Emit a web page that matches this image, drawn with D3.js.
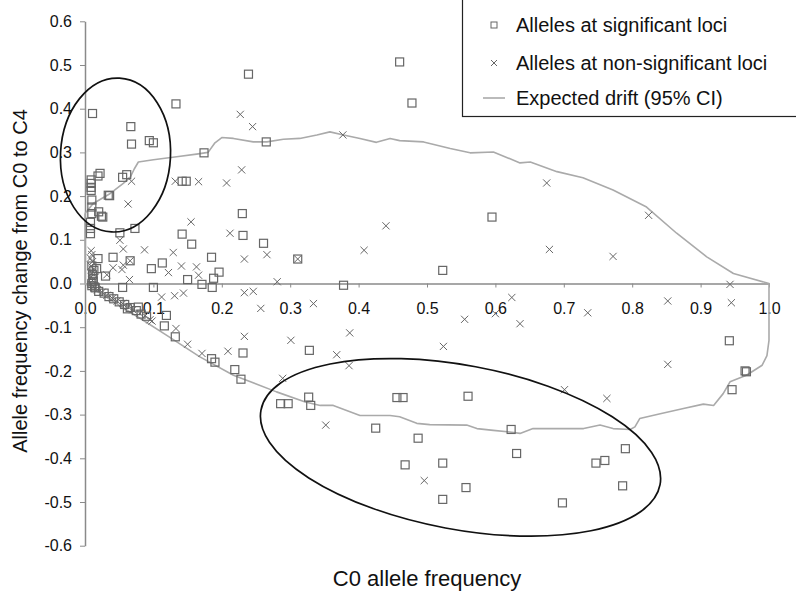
<!DOCTYPE html>
<html>
<head>
<meta charset="utf-8">
<script src="https://cdn.jsdelivr.net/npm/d3@7"></script>
<style>
  body { margin: 0; background: #fff; }
  text { font-family: "Liberation Sans", Arial, sans-serif; fill: #111; }
</style>
</head>
<body>
<div id="chart"></div>
<script>
// tick values
const xTicks = [0, 0.1, 0.2, 0.3, 0.4, 0.5, 0.6, 0.7, 0.8, 0.9, 1.0];
const yTicks = [0.6, 0.5, 0.4, 0.3, 0.2, 0.1, 0, -0.1, -0.2, -0.3, -0.4, -0.5, -0.6];

// alleles at significant loci [C0 freq, change C0->C4]
const sigAlleles = [
  [0.011,0.389],[0.133,0.411],[0.239,0.479],[0.460,0.507],[0.478,0.413],
  [0.067,0.359],[0.068,0.319],[0.094,0.327],[0.100,0.322],[0.174,0.299],[0.265,0.324],
  [0.022,0.252],[0.019,0.246],[0.061,0.249],[0.055,0.243],[0.142,0.234],[0.148,0.234],
  [0.034,0.202],[0.036,0.201],
  [0.009,0.237],[0.009,0.229],[0.009,0.220],[0.009,0.213],[0.010,0.191],[0.010,0.175],
  [0.010,0.160],[0.008,0.140],[0.008,0.126],[0.008,0.114],
  [0.024,0.154],[0.020,0.164],[0.026,0.152],
  [0.051,0.116],[0.073,0.126],[0.142,0.113],[0.156,0.090],[0.230,0.160],[0.231,0.110],
  [0.261,0.092],[0.311,0.056],
  [0.185,0.060],[0.196,0.026],[0.188,0.012],[0.171,-0.002],[0.186,-0.009],[0.150,0.009],
  [0.113,0.047],[0.097,0.034],[0.100,-0.009],[0.066,0.052],[0.041,0.060],[0.019,0.057],
  [0.055,-0.009],[0.017,0.034],[0.030,0.017],[0.378,-0.004],[0.523,0.030],[0.595,0.152],
  [0.010,0.000],[0.012,0.010],[0.011,0.020],[0.013,0.030],[0.010,0.040],[0.012,0.005],[0.014,-0.008],
  [0.010,-0.005],[0.015,-0.010],[0.020,-0.018],[0.028,-0.022],[0.035,-0.030],[0.042,-0.035],
  [0.050,-0.042],[0.058,-0.048],[0.066,-0.055],[0.075,-0.062],[0.082,-0.070],[0.078,-0.054],
  [0.090,-0.075],[0.062,-0.058],
  [0.116,-0.097],[0.119,-0.073],[0.132,-0.122],[0.185,-0.172],[0.190,-0.180],[0.219,-0.197],
  [0.228,-0.219],[0.231,-0.159],[0.328,-0.153],
  [0.286,-0.275],[0.297,-0.275],[0.327,-0.260],[0.330,-0.279],[0.456,-0.261],[0.465,-0.261],
  [0.560,-0.258],[0.425,-0.331],[0.487,-0.354],[0.468,-0.415],[0.523,-0.411],[0.523,-0.494],
  [0.557,-0.467],[0.623,-0.334],[0.631,-0.389],[0.698,-0.502],[0.747,-0.411],[0.760,-0.405],
  [0.790,-0.378],[0.786,-0.463],
  [0.942,-0.131],[0.967,-0.202],[0.965,-0.200],[0.946,-0.243]
];

// alleles at non-significant loci
const nonSigAlleles = [
  [0.227,0.387],[0.245,0.359],[0.229,0.260],[0.377,0.340],[0.068,0.234],[0.063,0.182],
  [0.132,0.234],[0.166,0.233],[0.207,0.230],[0.155,0.141],[0.212,0.115],[0.233,0.056],
  [0.266,0.066],[0.281,0.004],[0.440,0.132],[0.408,0.076],[0.087,0.077],[0.129,0.071],
  [0.056,0.079],[0.051,0.099],[0.041,0.036],[0.054,0.032],[0.056,0.042],[0.141,0.040],
  [0.122,0.025],[0.163,0.038],[0.166,0.019],[0.065,0.009],[0.032,0.020],
  [0.311,0.056],[0.066,0.052],
  [0.112,-0.031],[0.131,-0.028],[0.144,-0.022],[0.233,-0.021],[0.246,-0.018],
  [0.675,0.230],[0.824,0.156],[0.679,0.078],[0.772,0.062],[0.943,-0.002],
  [0.624,-0.032],[0.600,-0.069],[0.555,-0.082],[0.636,-0.092],[0.735,-0.067],[0.852,-0.040],
  [0.945,-0.044],[0.524,-0.144],[0.852,-0.185],[0.701,-0.243],[0.763,-0.263],[0.496,-0.451],
  [0.257,-0.057],[0.334,-0.046],[0.387,-0.113],[0.301,-0.130],[0.233,-0.121],[0.209,-0.155],
  [0.171,-0.160],[0.150,-0.139],[0.133,-0.103],[0.368,-0.163],[0.386,-0.188],[0.289,-0.217],
  [0.352,-0.324],[0.098,-0.086],
  [0.009,0.075],[0.010,0.066],[0.008,0.058],[0.011,0.050],[0.009,0.040],[0.012,0.032],
  [0.010,0.024],[0.009,0.015],[0.011,0.007],
  [0.012,-0.006],[0.018,-0.014],[0.025,-0.020],[0.032,-0.027],[0.040,-0.034],[0.047,-0.040],
  [0.055,-0.046],[0.063,-0.053],[0.070,-0.060],[0.080,-0.068],[0.088,-0.074],[0.095,-0.083]
];

// expected drift 95% CI envelope (closed outline)
const driftCI = [
  [0,0.160],[0.012,0.183],[0.037,0.206],[0.056,0.229],[0.066,0.243],[0.072,0.262],[0.078,0.278],
  [0.100,0.283],[0.134,0.290],[0.163,0.296],[0.180,0.300],[0.190,0.322],[0.200,0.334],
  [0.217,0.332],[0.246,0.324],[0.266,0.324],[0.290,0.330],[0.314,0.332],[0.339,0.340],
  [0.358,0.347],[0.378,0.340],[0.402,0.332],[0.426,0.323],[0.446,0.332],[0.460,0.327],
  [0.495,0.324],[0.534,0.309],[0.563,0.299],[0.597,0.301],[0.636,0.276],[0.651,0.278],
  [0.690,0.256],[0.728,0.242],[0.772,0.214],[0.821,0.175],[0.865,0.115],[0.909,0.061],
  [0.948,0.023],[1.0,0.0],
  [1.0,-0.13],[0.997,-0.165],[0.99,-0.187],[0.967,-0.210],[0.943,-0.225],[0.933,-0.252],[0.919,-0.279],
  [0.904,-0.276],[0.875,-0.286],[0.841,-0.298],[0.811,-0.309],[0.804,-0.328],[0.797,-0.334],
  [0.772,-0.332],[0.753,-0.324],[0.729,-0.332],[0.699,-0.332],[0.655,-0.332],[0.636,-0.343],
  [0.621,-0.340],[0.597,-0.336],[0.573,-0.332],[0.558,-0.324],[0.504,-0.323],[0.485,-0.320],
  [0.460,-0.305],[0.446,-0.302],[0.402,-0.302],[0.363,-0.279],[0.344,-0.279],[0.322,-0.271],
  [0.280,-0.248],[0.241,-0.224],[0.217,-0.210],[0.168,-0.168],[0.119,-0.118],[0.085,-0.084],
  [0.046,-0.046],[0,0],[0,0.160]
];

// hand-drawn highlight ellipses: centre in data units, radii in px, rotation in degrees
const highlights = [
  { cx: 0.0446, cy: 0.294, rx: 55, ry: 77, rot: 3 },
  { cx: 0.549, cy: -0.375, rx: 203, ry: 82, rot: 10.6 }
];

const legendItems = ["Alleles at significant loci", "Alleles at non-significant loci", "Expected drift (95% CI)"];

const width = 796, height = 592;
const svg = d3.select("#chart").append("svg")
  .attr("width", width).attr("height", height);

const x = d3.scaleLinear().domain([0, 1]).range([85, 769]);
const y = d3.scaleLinear().domain([-0.6, 0.6]).range([545.7, 21.3]);

const axisColor = "#8a8a8a";

// x axis along y = 0
const gx = svg.append("g").attr("transform", `translate(0,${y(0)})`)
  .call(d3.axisBottom(x).tickValues(xTicks).tickSize(4).tickSizeOuter(0).tickFormat(d => d.toFixed(1)));
gx.select(".domain").attr("stroke", axisColor).attr("stroke-width", 1.5);
gx.selectAll(".tick line").attr("stroke", axisColor);
gx.selectAll(".tick text").attr("y", 30).attr("dy", 0)
  .style("font-size", "16px").style("font-family", "Liberation Sans, Arial, sans-serif").attr("fill", "#111");

// y axis
const gy = svg.append("g").attr("transform", `translate(${x(0)},0)`)
  .call(d3.axisLeft(y).tickValues(yTicks).tickSize(5).tickSizeOuter(0).tickPadding(8).tickFormat(d => d.toFixed(1)));
gy.select(".domain").attr("stroke", axisColor).attr("stroke-width", 1.5);
gy.selectAll(".tick line").attr("stroke", axisColor);
gy.selectAll(".tick text")
  .style("font-size", "16px").style("font-family", "Liberation Sans, Arial, sans-serif").attr("fill", "#111");

// drift envelope
const line = d3.line().x(d => x(d[0])).y(d => y(d[1]));
svg.append("path").datum(driftCI)
  .attr("d", line)
  .attr("fill", "none").attr("stroke", "#aaa").attr("stroke-width", 1.6)
  .attr("stroke-linejoin", "round");

// points
const sq = 8;
svg.append("g").selectAll("rect")
  .data(sigAlleles).enter().append("rect")
  .attr("x", d => x(d[0]) - sq / 2).attr("y", d => y(d[1]) - sq / 2)
  .attr("width", sq).attr("height", sq)
  .attr("fill", "none").attr("stroke", "#666").attr("stroke-width", 1.2);

const cr = 3.6;
svg.append("g").selectAll("path")
  .data(nonSigAlleles).enter().append("path")
  .attr("d", d => {
    const cx = x(d[0]), cy = y(d[1]);
    return `M${cx - cr},${cy - cr}L${cx + cr},${cy + cr}M${cx - cr},${cy + cr}L${cx + cr},${cy - cr}`;
  })
  .attr("fill", "none").attr("stroke", "#666").attr("stroke-width", 1);

// highlight ellipses
svg.append("g").selectAll("ellipse")
  .data(highlights).enter().append("ellipse")
  .attr("transform", d => `translate(${x(d.cx)},${y(d.cy)}) rotate(${d.rot})`)
  .attr("rx", d => d.rx).attr("ry", d => d.ry)
  .attr("fill", "none").attr("stroke", "#111").attr("stroke-width", 1.7);

// axis titles
svg.append("text")
  .attr("x", 427).attr("y", 586)
  .attr("text-anchor", "middle")
  .style("font-size", "22px")
  .text("C0 allele frequency");

svg.append("text")
  .attr("transform", "translate(27,281) rotate(-90)")
  .attr("text-anchor", "middle")
  .style("font-size", "20px")
  .text("Allele frequency change from C0 to C4");

// legend
const legend = svg.append("g");
legend.append("rect")
  .attr("x", 462.5).attr("y", -1).attr("width", 340).attr("height", 117.5)
  .attr("fill", "#fff").attr("stroke", "#222").attr("stroke-width", 1.2);

const rowY = [25, 63, 98];
legend.selectAll("text.item")
  .data(legendItems).enter().append("text")
  .attr("class", "item")
  .attr("x", 516).attr("y", (d, i) => rowY[i] + 7)
  .style("font-size", "20px")
  .text(d => d);

legend.append("rect")
  .attr("x", 491).attr("y", rowY[0] - 3).attr("width", 6).attr("height", 6)
  .attr("fill", "none").attr("stroke", "#666").attr("stroke-width", 1);
legend.append("path")
  .attr("d", `M${491},${rowY[1] - 3}L${497},${rowY[1] + 3}M${491},${rowY[1] + 3}L${497},${rowY[1] - 3}`)
  .attr("stroke", "#666").attr("stroke-width", 1);
legend.append("line")
  .attr("x1", 483).attr("x2", 505).attr("y1", rowY[2]).attr("y2", rowY[2])
  .attr("stroke", "#aaa").attr("stroke-width", 1.6);
</script>
</body>
</html>
